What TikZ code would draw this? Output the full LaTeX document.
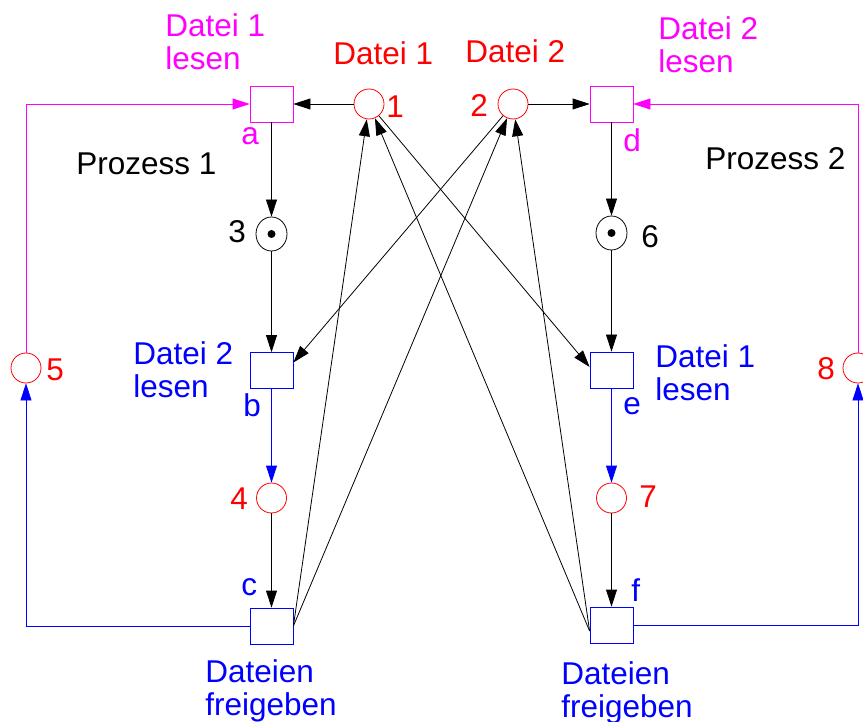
\documentclass[tikz,border=0pt]{standalone}
\usepackage{fontspec}
\setmainfont{Liberation Sans}
\usetikzlibrary{arrows.meta,shapes.geometric}
\definecolor{mag}{RGB}{255,0,255}
\definecolor{rd}{RGB}{255,0,0}
\definecolor{bl}{RGB}{0,0,255}
\begin{document}
\begin{tikzpicture}[x=1pt,y=-1pt, >={Triangle[length=17pt,width=11pt]}, line width=0.8pt,
 place/.style={circle,draw=rd,minimum size=30pt,inner sep=0pt},
 tok/.style={ellipse,draw=black,minimum width=31pt,minimum height=34pt,inner sep=0pt},
 trans/.style={draw,minimum width=43pt,minimum height=36pt,inner sep=0pt},
 txt/.style={inner sep=0pt,anchor=base west,align=left,font=\fontsize{31.5}{33}\selectfont}]
\useasboundingbox (0,0) rectangle (863,722);
% transitions
\node[trans,draw=mag] (a) at (271.5,104) {};
\node[trans,draw=bl] (b) at (271.5,370.5) {};
\node[trans,draw=bl] (c) at (271.5,626) {};
\node[trans,draw=mag] (d) at (611.5,104) {};
\node[trans,draw=bl] (e) at (611.5,370) {};
\node[trans,draw=bl] (f) at (611.5,625) {};
% places
\node[place] (p1) at (369,104) {};
\node[place] (p2) at (513,104) {};
\node[tok] (p3) at (271.5,234) {};
\node[place] (p4) at (271.5,498) {};
\node[place] (p5) at (26,368) {};
\node[tok] (p6) at (611.5,233) {};
\node[place] (p7) at (611.5,498) {};
\node[place] (p8) at (858,368) {};
\fill (p3.center) circle (4pt);
\fill (p6.center) circle (4pt);
% texts (multi-line nodes: base = baseline of last line)
\node[txt,mag] (ta) at (165,70) {Datei 1\\lesen};
\node[txt,rd] (t1) at (333,65) {Datei 1};
\node[txt,rd] (n1) at (386,118) {1};
\node[txt,mag] (la) at (241,145) {a};
\node[txt] (P1) at (76,175) {Prozess 1};
\node[txt] (n3) at (228,243) {3};
\node[txt,rd] (t2) at (465,63) {Datei 2};
\node[txt,rd] (n2) at (470,117) {2};
\node[txt,mag] (td) at (658,73) {Datei 2\\lesen};
\node[txt,mag] (ld) at (623,152) {d};
\node[txt] (P2) at (705,170) {Prozess 2};
\node[txt] (n6) at (641,248) {6};
\node[txt,rd] (n5) at (46,381) {5};
\node[txt,bl] (tb) at (133,397) {Datei 2\\lesen};
\node[txt,bl] (lb) at (243,417) {b};
\node[txt,rd] (n4) at (230,509) {4};
\node[txt,bl] (lc) at (241,595) {c};
\node[txt,bl] (tc) at (205,715) {Dateien\\freigeben};
\node[txt,bl] (te) at (655,400) {Datei 1\\lesen};
\node[txt,bl] (le) at (623,414) {e};
\node[txt,rd] (n7) at (639,507) {7};
\node[txt,rd] (n8) at (817,379) {8};
\node[txt,bl] (lf) at (631,601) {f};
\node[txt,bl] (tf) at (561,717) {Dateien\\freigeben};
% arcs
\draw[->] (p1) -- (a);
\draw[->] (p2) -- (d);
\draw[->] (a) -- (p3);
\draw[->] (p3) -- (b);
\draw[bl,->] (b) -- (p4);
\draw[->] (p4) -- (c);
\draw[->] (d) -- (p6);
\draw[->] (p6) -- (e);
\draw[bl,->] (e) -- (p7);
\draw[->] (p7) -- (f);
\draw[mag,->] (p5.north) |- (a.west);
\draw[mag,->] (p8.north) |- (d.east);
\draw[bl,->] (c.west) -| (p5.south);
\draw[bl,->] (f.east) -| (p8.south);
\draw[->] (c.east) -- (p1);
\draw[->] (c.east) -- (p2);
\draw[->] ([yshift=-6pt]f.west) -- (p1);
\draw[->] ([yshift=-6pt]f.west) -- (p2);
\draw[->] (p2) -- ([yshift=8pt]b.east);
\draw[->] (p1) -- ([yshift=3pt]e.west);
\end{tikzpicture}
\end{document}
